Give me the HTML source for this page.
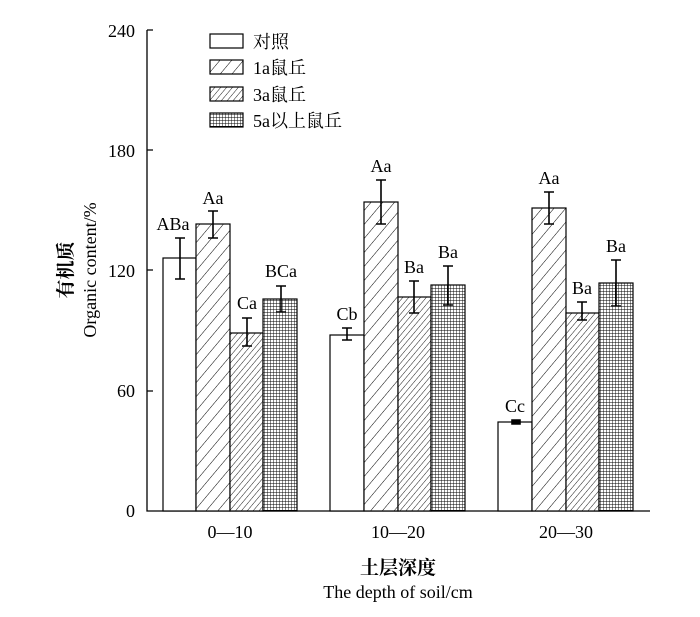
<!DOCTYPE html>
<html><head><meta charset="utf-8"><style>body{margin:0;background:#fff}svg{display:block}</style></head><body>
<svg width="700" height="617" xmlns="http://www.w3.org/2000/svg" font-family="Liberation Serif, Noto Serif CJK SC, serif">
<defs>
<pattern id="h1" patternUnits="userSpaceOnUse" width="9" height="9" patternTransform="rotate(40)"><rect width="9" height="9" fill="#fff"/><line x1="0" y1="0" x2="0" y2="9" stroke="#000" stroke-width="1"/></pattern>
<pattern id="h3" patternUnits="userSpaceOnUse" width="4.5" height="4.5" patternTransform="rotate(40)"><rect width="5" height="5" fill="#fff"/><line x1="0" y1="0" x2="0" y2="5" stroke="#000" stroke-width="0.9"/></pattern>
<pattern id="g5" patternUnits="userSpaceOnUse" width="3" height="3"><rect width="3" height="3" fill="#fff"/><path d="M0 0H3M0 0V3" stroke="#000" stroke-width="0.9"/></pattern>
</defs>
<g stroke="#000" stroke-width="1.3" fill="none">
<path d="M147 30V511H650"/>
<path d="M147 30h6M147 150h6M147 270h6M147 391h6"/>
</g>
<g font-size="18" text-anchor="end">
<text x="135" y="37">240</text><text x="135" y="157">180</text><text x="135" y="277">120</text><text x="135" y="397">60</text><text x="135" y="517">0</text>
</g>
<g stroke="#000" stroke-width="1.2">
<rect x="163" y="258" width="33" height="253" fill="#fff"/>
<rect x="196" y="224" width="34" height="287" fill="url(#h1)"/>
<rect x="230" y="333" width="33" height="178" fill="url(#h3)"/>
<rect x="263" y="299" width="34" height="212" fill="url(#g5)"/>
<rect x="330" y="335" width="34" height="176" fill="#fff"/>
<rect x="364" y="202" width="34" height="309" fill="url(#h1)"/>
<rect x="398" y="297" width="33" height="214" fill="url(#h3)"/>
<rect x="431" y="285" width="34" height="226" fill="url(#g5)"/>
<rect x="498" y="422" width="34" height="89" fill="#fff"/>
<rect x="532" y="208" width="34" height="303" fill="url(#h1)"/>
<rect x="566" y="313" width="33" height="198" fill="url(#h3)"/>
<rect x="599" y="283" width="34" height="228" fill="url(#g5)"/>
</g>
<g stroke="#000" stroke-width="1.6" fill="none">
<path d="M180 238V279M175 238h10M175 279h10"/>
<path d="M213 211V238M208 211h10M208 238h10"/>
<path d="M247 318V346M242 318h10M242 346h10"/>
<path d="M281 286V312M276 286h10M276 312h10"/>
<path d="M347 328V340M342 328h10M342 340h10"/>
<path d="M381 180V224M376 180h10M376 224h10"/>
<path d="M414 281V313M409 281h10M409 313h10"/>
<path d="M448 266V305M443 266h10M443 305h10"/>
<path d="M512 420h8v4h-8z" fill="#000"/>
<path d="M549 192V224M544 192h10M544 224h10"/>
<path d="M582 302V320M577 302h10M577 320h10"/>
<path d="M616 260V306M611 260h10M611 306h10"/>
</g>
<g font-size="18" text-anchor="middle">
<text x="173" y="230">ABa</text><text x="213" y="204">Aa</text><text x="247" y="309">Ca</text><text x="281" y="277">BCa</text>
<text x="347" y="320">Cb</text><text x="381" y="172">Aa</text><text x="414" y="273">Ba</text><text x="448" y="258">Ba</text>
<text x="515" y="412">Cc</text><text x="549" y="184">Aa</text><text x="582" y="294">Ba</text><text x="616" y="252">Ba</text>
</g>
<g font-size="18" text-anchor="middle">
<text x="230" y="538">0—10</text><text x="398" y="538">10—20</text><text x="566" y="538">20—30</text>
<text x="398" y="574" font-size="19" font-weight="bold">土层深度</text><text x="398" y="598">The depth of soil/cm</text>
</g>
<text transform="translate(72 270) rotate(-90)" font-size="18" text-anchor="middle"><tspan x="0" y="0" font-weight="bold" font-size="19">有机质</tspan><tspan x="0" y="24">Organic content/%</tspan></text>
<g stroke="#000" stroke-width="1.2">
<rect x="210" y="34" width="33" height="14" fill="#fff"/>
<rect x="210" y="60" width="33" height="14" fill="url(#h1)"/>
<rect x="210" y="87" width="33" height="14" fill="url(#h3)"/>
<rect x="210" y="113" width="33" height="14" fill="url(#g5)"/>
</g>
<g font-size="18">
<text x="253" y="48">对照</text><text x="253" y="74">1a鼠丘</text><text x="253" y="101">3a鼠丘</text><text x="253" y="127">5a以上鼠丘</text>
</g>
</svg>
</body></html>
